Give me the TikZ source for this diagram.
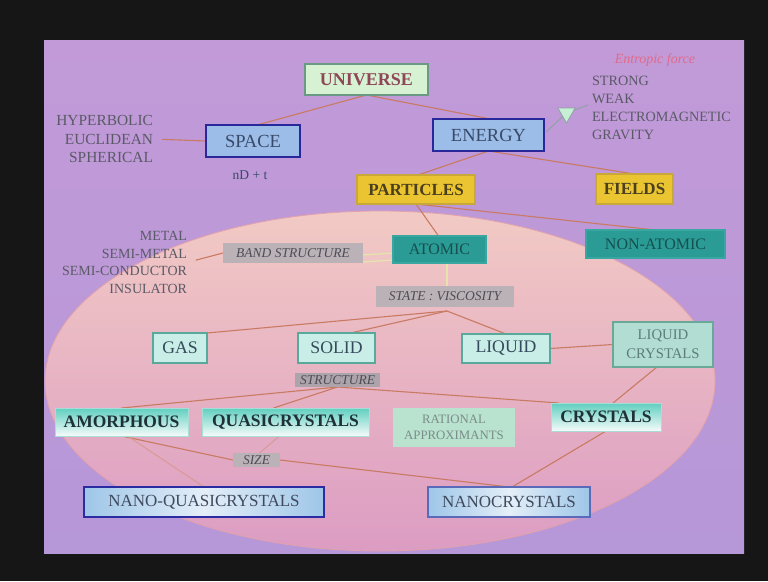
\documentclass[tikz,border=0pt]{standalone}
\usepackage{fontspec}
\setmainfont{Liberation Serif}
\usetikzlibrary{calc,shapes.geometric}
\pgfdeclarelayer{bg}
\pgfdeclarelayer{links}
\pgfsetlayers{bg,links,main}

\definecolor{framec}{HTML}{161616}
\definecolor{slidetop}{HTML}{C29AD8}
\definecolor{slidemid}{HTML}{ECE5F2}
\definecolor{slidebot}{HTML}{B697D8}
\definecolor{elltop}{HTML}{F2CAC4}
\definecolor{ellbot}{HTML}{DC9CC3}
\definecolor{ellline}{HTML}{E2A2AC}
\definecolor{linkc}{HTML}{C97A62}
\definecolor{faintlink}{HTML}{D99A96}
\definecolor{palelink}{HTML}{E6E4AC}
\definecolor{trilink}{HTML}{8FA2A4}
\definecolor{univline}{HTML}{6A9A84}
\definecolor{univfill}{HTML}{D6F2D2}
\definecolor{univtext}{HTML}{8E4658}
\definecolor{cosline}{HTML}{28289A}
\definecolor{cosfill}{HTML}{9DBDE9}
\definecolor{costext}{HTML}{394A68}
\definecolor{yelline}{HTML}{C9A83A}
\definecolor{yelfill}{HTML}{EBC531}
\definecolor{yeltext}{HTML}{4A3F1E}
\definecolor{tealline}{HTML}{3AA6A0}
\definecolor{tealfill}{HTML}{2B9B95}
\definecolor{tealtext}{HTML}{15504F}
\definecolor{tagfill}{HTML}{BAB2B6}
\definecolor{tagtext}{HTML}{4E4C56}
\definecolor{phline}{HTML}{58A89C}
\definecolor{phfill}{HTML}{C9EDE7}
\definecolor{phtext}{HTML}{354A5A}
\definecolor{lcline}{HTML}{6AA898}
\definecolor{lcfill}{HTML}{B2DDD2}
\definecolor{lctext}{HTML}{5D7C7A}
\definecolor{sotop}{HTML}{5FCFC0}
\definecolor{sobot}{HTML}{F6FBFA}
\definecolor{soline}{HTML}{A8DDD5}
\definecolor{sotext}{HTML}{1F3038}
\definecolor{rafill}{HTML}{B9E2CF}
\definecolor{ratext}{HTML}{7B8C8A}
\definecolor{nanoline}{HTML}{2C2CA2}
\definecolor{nanoline2}{HTML}{5A6AB8}
\definecolor{nanoside}{HTML}{9EC6E8}
\definecolor{nanomid}{HTML}{E4EEF8}
\definecolor{nanotext}{HTML}{3F4A5E}
\definecolor{listc}{HTML}{5A5A66}
\definecolor{forcec}{HTML}{E06A8A}
\definecolor{trifill}{HTML}{C6F0D6}

\tikzset{
  every node/.style={inner sep=0pt, outer sep=0pt},
  lnk/.style={draw=linkc, line width=1.1pt},
  faintlnk/.style={draw=faintlink, line width=1pt},
  palelnk/.style={draw=palelink, line width=1.3pt},
  trilnk/.style={draw=trilink, line width=1pt},
  universebox/.style={draw=univline, line width=2pt, fill=univfill, text=univtext,
    font=\fontsize{18}{21}\selectfont\bfseries},
  cosmicbox/.style={draw=cosline, line width=2.4pt, fill=cosfill, text=costext,
    font=\fontsize{18.5}{22}\selectfont},
  yellowbox/.style={draw=yelline, line width=1.2pt, fill=yelfill, text=yeltext,
    font=\fontsize{17}{20}\selectfont\bfseries},
  tealbox/.style={draw=tealline, line width=1.2pt, fill=tealfill, text=tealtext,
    font=\fontsize{16}{19}\selectfont},
  tagbox/.style={fill=tagfill, text=tagtext, font=\fontsize{13.5}{16}\selectfont\itshape},
  phasebox/.style={draw=phline, line width=1.5pt, fill=phfill, text=phtext,
    font=\fontsize{17.7}{20}\selectfont},
  lcbox/.style={draw=lcline, line width=1.5pt, fill=lcfill, text=lctext, align=center,
    font=\fontsize{14.7}{19}\selectfont},
  solidbox/.style={draw=soline, line width=0.8pt, top color=sotop, bottom color=sobot,
    text=sotext, font=\fontsize{17.5}{20}\selectfont\bfseries},
  rabox/.style={fill=rafill, text=ratext, align=center, font=\fontsize{12.8}{16}\selectfont},
  nanobox/.style={draw=nanoline, line width=2.4pt, left color=nanoside, right color=nanoside,
    middle color=nanomid, text=nanotext, font=\fontsize{17}{20}\selectfont},
  listtext/.style={text=listc},
}

\begin{document}
\begin{tikzpicture}[x=1pt,y=-1pt]
\useasboundingbox (0,0) rectangle (768,581);

% ---------- backdrop: frame, slide and the condensed-matter ellipse ----------
\begin{pgfonlayer}{bg}
  \fill[framec] (0,0) rectangle (768,581);
  \shade[top color=slidetop, middle color=slidemid, bottom color=slidebot]
    (44,40) rectangle (744,553);
  \shade[top color=elltop, bottom color=ellbot] (380,381) ellipse [x radius=335pt, y radius=170pt];
  \draw[ellline, line width=0.8pt] (380,381) ellipse [x radius=335pt, y radius=170pt];
\end{pgfonlayer}

% ---------- top of the hierarchy ----------
\node[universebox, minimum width=123pt, minimum height=31pt] (universe) at (366.5,79.5) {UNIVERSE};
\node[cosmicbox, minimum width=94pt, minimum height=32pt] (space) at (253,141) {SPACE};
\node[cosmicbox, minimum width=111pt, minimum height=32pt] (energy) at (488.5,135) {ENERGY};

\node[listtext, align=right, anchor=east, font=\fontsize{15.4}{18.5}\selectfont] (geoms) at (153,139)
  {HYPERBOLIC\\EUCLIDEAN\\SPHERICAL};
\node[text=costext, font=\fontsize{13.5}{15}\selectfont] (dims) at (250,175) {nD + t};

\node[text=forcec, font=\fontsize{14}{16}\selectfont\itshape] (entropic) at (655,60) {Entropic force};
\node[listtext, align=left, anchor=west, font=\fontsize{14.2}{18}\selectfont] (forces) at (592,108)
  {STRONG\\WEAK\\ELECTROMAGNETIC\\GRAVITY};
\node[regular polygon, regular polygon sides=3, shape border rotate=180, minimum size=20pt,
  draw=trilink, line width=0.8pt, fill=trifill] (tri) at (566.5,113) {};

\node[yellowbox, minimum width=118pt, minimum height=29pt] (particles) at (416,189.5) {PARTICLES};
\node[yellowbox, minimum width=77pt, minimum height=30pt] (fields) at (634.5,189) {FIELDS};

% ---------- matter ----------
\node[tealbox, minimum width=93pt, minimum height=27pt] (atomic) at (439.5,249.5) {ATOMIC};
\node[tealbox, minimum width=139pt, minimum height=28pt] (nonatomic) at (655.5,244) {NON-ATOMIC};

\node[tagbox, minimum width=140pt, minimum height=20pt] (band) at (293,253) {BAND STRUCTURE};
\node[listtext, align=right, anchor=east, font=\fontsize{14}{17.6}\selectfont] (metals) at (187,262.5)
  {METAL\\SEMI-METAL\\SEMI-CONDUCTOR\\INSULATOR};

\node[tagbox, minimum width=138pt, minimum height=21pt] (state) at (445,296.5) {STATE : VISCOSITY};

\node[phasebox, minimum width=54pt, minimum height=30pt] (gas) at (180,348) {GAS};
\node[phasebox, minimum width=77pt, minimum height=30pt] (solid) at (336.5,348) {SOLID};
\node[phasebox, minimum width=88pt, minimum height=29pt] (liquid) at (506,348.5) {LIQUID};
\node[lcbox, minimum width=100pt, minimum height=45pt] (lc) at (663,344.5) {LIQUID\\CRYSTALS};

\node[tagbox, fill={rgb,255:red,172;green,164;blue,170}, minimum width=85pt, minimum height=14pt] (structure) at (337.5,380) {STRUCTURE};

\node[solidbox, minimum width=133pt, minimum height=28pt] (amorphous) at (121.5,422) {AMORPHOUS};
\node[solidbox, minimum width=167pt, minimum height=28pt] (quasi) at (285.5,422) {QUASICRYSTALS};
\node[rabox, minimum width=122pt, minimum height=39pt] (ratapp) at (454,427.5) {RATIONAL\\APPROXIMANTS};
\node[solidbox, minimum width=110pt, minimum height=28pt] (crystals) at (606,417) {CRYSTALS};

\node[tagbox, minimum width=47pt, minimum height=14pt] (size) at (256.5,460) {SIZE};

\node[nanobox, minimum width=240pt, minimum height=30pt] (nanoquasi) at (204,502) {NANO-QUASICRYSTALS};
\node[nanobox, draw=nanoline2, line width=1.6pt, minimum width=162pt, minimum height=30pt] (nanocryst) at (509,502) {NANOCRYSTALS};

% ---------- connectors ----------
\coordinate (statehub) at ($(state.south)+(2,4)$);
\begin{pgfonlayer}{links}
  \draw[lnk] (universe.south) -- ($(space.north)+(4,0)$);
  \draw[lnk] (universe.south) -- ($(energy.north)+(2,0)$);
  \draw[lnk, shorten <=9pt] (geoms.east) -- (space.west);
  \draw[trilnk] ($(energy.east)+(2,-3)$) -- (tri);
  \draw[trilnk] (tri) -- ($(forces.west)+(-4,-3)$);
  \draw[lnk] (energy.south) -- ($(particles.north)+(2,0)$);
  \draw[lnk] (energy.south) -- (fields.north);
  \draw[lnk] (particles.south) -- ($(atomic.north)+(-1,0)$);
  \draw[lnk] (particles.south) -- (nonatomic.north);
  \draw[palelnk] ($(band.east)+(0,2)$) -- ($(atomic.west)+(0,3.5)$);
  \draw[palelnk] ($(band.east)+(0,9)$) -- ($(atomic.west)+(0,10.5)$);
  \draw[lnk, shorten >=9pt] (band.west) -- (metals.east);
  \draw[palelnk] ($(atomic.south)+(7.5,0)$) -- ($(state.north)+(2,0)$);
  \draw[lnk] (statehub) -- (gas.north east);
  \draw[lnk] (statehub) -- ($(solid.north)+(14,0)$);
  \draw[lnk] (statehub) -- (liquid.north);
  \draw[lnk] (liquid.east) -- (lc.west);
  \draw[lnk] (structure.south) -- (amorphous.north);
  \draw[lnk] (structure.south) -- ($(quasi.north)+(-12,0)$);
  \draw[lnk] (structure.south) -- ($(crystals.north west)+(8,0)$);
  \draw[lnk] ($(lc.south)+(-6,0)$) -- ($(crystals.north)+(7,0)$);
  \draw[lnk] (amorphous.south) -- (size.west);
  \draw[faintlnk] ($(amorphous.south)+(6,0)$) -- (nanoquasi.north);
  \draw[faintlnk] ($(quasi.south)+(-6,0)$) -- ($(size.north)+(3,0)$);
  \draw[lnk] (size.east) -- (nanocryst.north);
  \draw[lnk] (crystals.south) -- ($(nanocryst.north)+(3,0)$);
\end{pgfonlayer}
\end{tikzpicture}
\end{document}
